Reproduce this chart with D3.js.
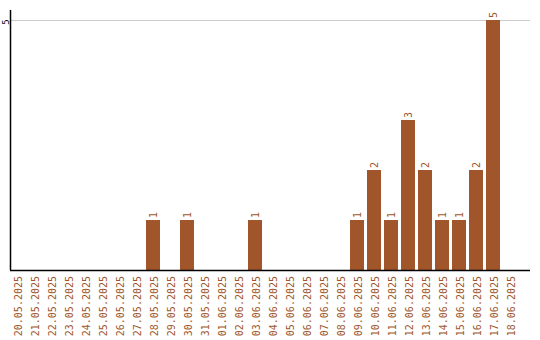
<!DOCTYPE html>
<html>
<head>
<meta charset="utf-8">
<script src="https://cdn.jsdelivr.net/npm/d3@7"></script>
<style>
  body { margin: 0; background: #fff; }
  text { font-family: "DejaVu Sans Mono", monospace; }
</style>
</head>
<body>
<script>
var dates = ["20.05.2025","21.05.2025","22.05.2025","23.05.2025","24.05.2025","25.05.2025",
  "26.05.2025","27.05.2025","28.05.2025","29.05.2025","30.05.2025","31.05.2025",
  "01.06.2025","02.06.2025","03.06.2025","04.06.2025","05.06.2025","06.06.2025",
  "07.06.2025","08.06.2025","09.06.2025","10.06.2025","11.06.2025","12.06.2025",
  "13.06.2025","14.06.2025","15.06.2025","16.06.2025","17.06.2025","18.06.2025"];
var counts = [0,0,0,0,0,0, 0,0,1,0,1,0, 0,0,1,0,0,0, 0,0,1,2,1,3, 2,1,1,2,5,0];
var yTicks = [5];

var svgWidth = 540;
var svgHeight = 340;
var barColor = "#a0562a";

var svg = d3.select("body")
  .append("svg")
  .attr("width", svgWidth)
  .attr("height", svgHeight);

var xScale = d3.scaleBand()
  .domain(dates)
  .range([10, 520]);

var yScale = d3.scaleLinear()
  .domain([0, 5])
  .range([270, 20]);

// gridline
svg.selectAll("line.grid").data(yTicks).enter()
  .append("line")
  .attr("x1", 10).attr("x2", 530)
  .attr("y1", d => yScale(d) + 0.5).attr("y2", d => yScale(d) + 0.5)
  .attr("stroke", "#cccccc");

// tick labels
svg.selectAll("text.ytick").data(yTicks).enter()
  .append("text")
  .attr("transform", d => `translate(8.5, ${yScale(d) + 2}) rotate(-90)`)
  .attr("text-anchor", "middle")
  .attr("font-size", 9)
  .attr("fill", "#000")
  .text(d => d);

var data = dates.map((d, i) => ({date: d, n: counts[i]}));

svg.selectAll("rect.bar").data(data.filter(d => d.n > 0)).enter()
  .append("rect")
  .attr("x", d => xScale(d.date))
  .attr("y", d => yScale(d.n))
  .attr("width", xScale.bandwidth() - 3)
  .attr("height", d => yScale(0) - yScale(d.n))
  .attr("fill", barColor);

svg.selectAll("text.val").data(data.filter(d => d.n > 0)).enter()
  .append("text")
  .attr("transform", d => `translate(${xScale(d.date) + 7 + 3.5}, ${yScale(d.n) - 2}) rotate(-90)`)
  .attr("font-size", 10)
  .attr("fill", barColor)
  .text(d => d.n);

svg.selectAll("text.xlab").data(dates).enter()
  .append("text")
  .attr("transform", d => `translate(${xScale(d) + xScale.bandwidth() / 2 + 3.5}, 276) rotate(-90)`)
  .attr("text-anchor", "end")
  .attr("font-size", 10)
  .attr("fill", barColor)
  .text(d => d);

// axes lines
svg.append("line")
  .attr("x1", 10.5).attr("x2", 10.5)
  .attr("y1", 10).attr("y2", 270)
  .attr("stroke", "#000").attr("stroke-width", 1.5);
svg.append("line")
  .attr("x1", 10).attr("x2", 530)
  .attr("y1", 270.5).attr("y2", 270.5)
  .attr("stroke", "#000").attr("stroke-width", 1.5);
</script>
</body>
</html>
